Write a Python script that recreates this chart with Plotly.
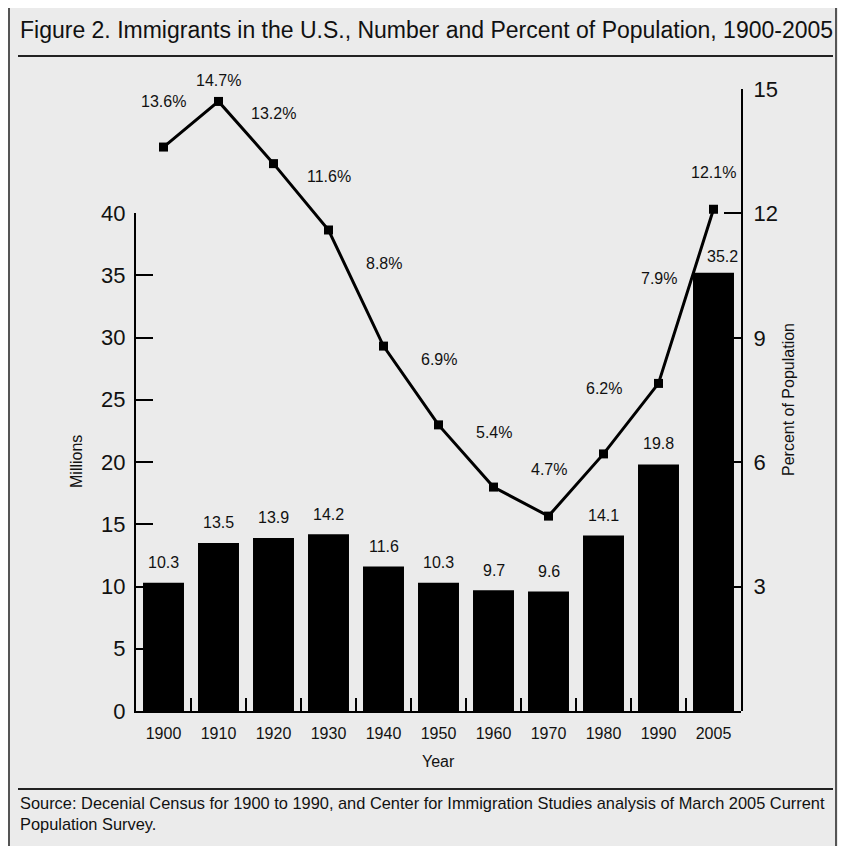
import plotly.graph_objects as go

# ---------------- data ----------------
years = ["1900", "1910", "1920", "1930", "1940", "1950", "1960", "1970", "1980", "1990", "2005"]
immigrants_millions = [10.3, 13.5, 13.9, 14.2, 11.6, 10.3, 9.7, 9.6, 14.1, 19.8, 35.2]
percent_population = [13.6, 14.7, 13.2, 11.6, 8.8, 6.9, 5.4, 4.7, 6.2, 7.9, 12.1]
left_ticks = [0, 5, 10, 15, 20, 25, 30, 35, 40]
right_ticks = [3, 6, 9, 12, 15]

TITLE = "Figure 2. Immigrants in the U.S., Number and Percent of Population, 1900-2005"
SOURCE_1 = "Source: Decenial Census for 1900 to 1990, and Center for Immigration Studies analysis of March 2005 Current"
SOURCE_2 = "Population Survey."

# ---------------- styling / label placement ----------------
pct_label_shift = [46, 21, 50, 53, 83, 65, 55, 47, 65, 105, 37]
bar_label_shift = [20, 20, 20, 20, 20, 20, 20, 20, 20, 21, 16]
bar_label_xshift = [0, 0, 0, 0, 0, 0, 0, 0, 0, 0, 9]

FONT = "Liberation Sans, Arial, sans-serif"
INK = "#111111"
BG = "#ebebeb"

# The page body has an 8px margin, so the figure is drawn from (8, 8).
OFF = 8
W = 846 - OFF
H = 846 - OFF
PLOT_L, PLOT_R, PLOT_T, PLOT_B = 136, 741, 89, 711   # page pixels
L, T = PLOT_L - OFF, PLOT_T - OFF
R = (OFF + W) - PLOT_R
B = (OFF + H) - PLOT_B
PW = PLOT_R - PLOT_L
PH = PLOT_B - PLOT_T


def px(x):
    return (x - PLOT_L) / PW


def py(y):
    return (PLOT_B - y) / PH


fig = go.Figure()
fig.add_trace(go.Bar(
    x=years, y=immigrants_millions, xaxis="x", yaxis="y",
    marker=dict(color="black", line=dict(width=0)), hoverinfo="skip",
))
fig.add_trace(go.Scatter(
    x=years, y=percent_population, xaxis="x", yaxis="y2",
    mode="lines+markers", line=dict(color="black", width=3),
    marker=dict(symbol="square", size=9, color="black"),
    cliponaxis=False, hoverinfo="skip",
))

annotations = []
for i, v in enumerate(immigrants_millions):
    annotations.append(dict(
        x=i, y=v, xref="x", yref="y", text=f"{v:.1f}", showarrow=False,
        yshift=bar_label_shift[i], xshift=bar_label_xshift[i],
        font=dict(family=FONT, size=16, color=INK),
    ))
for i, p in enumerate(percent_population):
    annotations.append(dict(
        x=i, y=p, xref="x", yref="y2", text=f"{p:.1f}%", showarrow=False,
        yshift=pct_label_shift[i],
        font=dict(family=FONT, size=16, color=INK),
    ))

annotations += [
    dict(x=px(18), y=py(30), xref="paper", yref="paper", text=TITLE, showarrow=False,
         xanchor="left", yanchor="middle", font=dict(family=FONT, size=23, color=INK)),
    dict(x=px(18), y=py(803), xref="paper", yref="paper", text=SOURCE_1, showarrow=False,
         xanchor="left", yanchor="middle", font=dict(family=FONT, size=16.4, color=INK)),
    dict(x=px(18), y=py(824), xref="paper", yref="paper", text=SOURCE_2, showarrow=False,
         xanchor="left", yanchor="middle", font=dict(family=FONT, size=16.4, color=INK)),
    dict(x=px(438), y=py(761), xref="paper", yref="paper", text="Year", showarrow=False,
         xanchor="center", yanchor="middle", font=dict(family=FONT, size=16, color=INK)),
    dict(x=px(76), y=py(462), xref="paper", yref="paper", text="Millions", showarrow=False,
         textangle=-90, xanchor="center", yanchor="middle", font=dict(family=FONT, size=16, color=INK)),
    dict(x=px(788), y=py(400), xref="paper", yref="paper", text="Percent of Population", showarrow=False,
         textangle=-90, xanchor="center", yanchor="middle", font=dict(family=FONT, size=16, color=INK)),
]

shapes = [
    dict(type="rect", xref="paper", yref="paper", x0=px(9), x1=px(836), y0=py(6), y1=py(870),
         line=dict(color="#555555", width=2), fillcolor="rgba(0,0,0,0)", layer="below"),
    dict(type="line", xref="paper", yref="paper", x0=px(18), x1=px(833), y0=py(56), y1=py(56),
         line=dict(color="#222222", width=2)),
    dict(type="line", xref="paper", yref="paper", x0=px(18), x1=px(833), y0=py(789), y1=py(789),
         line=dict(color="#222222", width=2)),
]

fig.update_layout(
    width=W, height=H,
    margin=dict(l=L, r=R, t=T, b=B, pad=0),
    paper_bgcolor=BG, plot_bgcolor="rgba(0,0,0,0)",
    showlegend=False, bargap=0.255,
    annotations=annotations, shapes=shapes,
    xaxis=dict(
        type="category", categoryorder="array", categoryarray=years,
        range=[-0.5, len(years) - 0.5], anchor="y",
        tickson="boundaries", ticks="inside", ticklen=13, tickwidth=2, tickcolor="black",
        showline=True, linewidth=2, linecolor="black", showgrid=False, zeroline=False,
        tickfont=dict(family=FONT, size=16, color=INK), ticklabelstandoff=7,
    ),
    yaxis=dict(
        domain=[0, (PLOT_B - 213) / PH], range=[0, 40], anchor="x",
        tickvals=left_ticks, ticks="inside", ticklen=17, tickwidth=2, tickcolor="black",
        showline=True, linewidth=2, linecolor="black", showgrid=False, zeroline=False,
        tickfont=dict(family=FONT, size=22, color=INK), ticklabelstandoff=4,
    ),
    yaxis2=dict(
        domain=[0, 1], range=[0, 15], anchor="x", side="right",
        tickvals=right_ticks, ticks="inside", ticklen=17, tickwidth=2, tickcolor="black",
        showline=True, linewidth=2, linecolor="black", showgrid=False, zeroline=False,
        tickfont=dict(family=FONT, size=22, color=INK), ticklabelstandoff=6,
    ),
)

fig.write_html("out.html")
